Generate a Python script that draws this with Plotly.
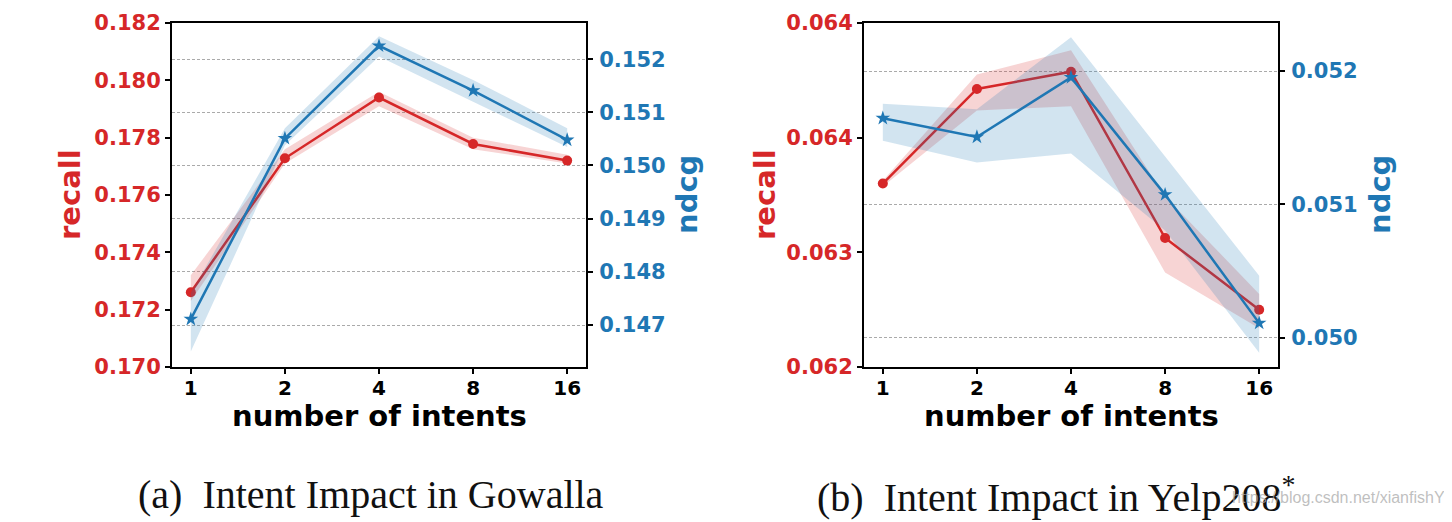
import plotly.graph_objects as go

# ---------------- data ----------------
intents = ["1", "2", "4", "8", "16"]

# (a) Gowalla
gow_recall = [0.17261, 0.17728, 0.17940, 0.17778, 0.17720]
gow_recall_hi = [0.17320, 0.17760, 0.17960, 0.17800, 0.17740]
gow_recall_lo = [0.17230, 0.17710, 0.17910, 0.17760, 0.17710]
gow_ndcg = [0.14711, 0.15051, 0.15225, 0.15141, 0.15048]
gow_ndcg_hi = [0.14760, 0.15070, 0.15243, 0.15161, 0.15070]
gow_ndcg_lo = [0.14650, 0.15038, 0.15205, 0.15120, 0.15035]

# (b) Yelp2018
yelp_recall = [0.06328, 0.06394, 0.06406, 0.06290, 0.06240]
yelp_recall_hi = [0.06330, 0.06404, 0.06421, 0.06319, 0.06251]
yelp_recall_lo = [0.06326, 0.06379, 0.06382, 0.06266, 0.06227]
yelp_ndcg = [0.051646, 0.051505, 0.051952, 0.051073, 0.050109]
yelp_ndcg_hi = [0.051754, 0.051714, 0.052253, 0.051356, 0.050465]
yelp_ndcg_lo = [0.051477, 0.051314, 0.051382, 0.050804, 0.049887]

gow_recall_ticks = [0.170, 0.172, 0.174, 0.176, 0.178, 0.180, 0.182]
gow_ndcg_ticks = [0.147, 0.148, 0.149, 0.150, 0.151, 0.152]
yelp_recall_ticks = [0.0620, 0.0628, 0.0636, 0.0644]
yelp_recall_ticktext = ["0.062", "0.063", "0.064", "0.064"]
yelp_ndcg_ticks = [0.050, 0.051, 0.052]

captions = ["(a)\u00a0\u00a0Intent Impact in Gowalla", "(b)\u00a0\u00a0Intent Impact in Yelp208<sup>*</sup>"]

# ---------------- style ----------------
RED = "#d62728"
BLUE = "#1f77b4"
RED_FILL = "rgba(214,39,40,0.2)"
BLUE_FILL = "rgba(31,119,180,0.2)"
W, H = 1452, 522
OFF = 8  # page body margin
FONT = "DejaVu Sans"


def px(x):
    return (x - OFF) / W


def py(y):
    return 1 - (y - OFF) / H


fig = go.Figure()


def add_panel(xa, ya_rec, ya_ndcg, rec, rec_hi, rec_lo, nd, nd_hi, nd_lo):
    xr = xa.replace("axis", "")
    yr = ya_rec.replace("axis", "")
    yn = ya_ndcg.replace("axis", "")
    fig.add_trace(go.Scatter(x=intents + intents[::-1], y=rec_hi + rec_lo[::-1],
                             fill="toself", fillcolor=RED_FILL, line=dict(width=0),
                             mode="lines", hoverinfo="skip", showlegend=False,
                             xaxis=xr, yaxis=yr))
    fig.add_trace(go.Scatter(x=intents, y=rec, mode="lines+markers",
                             line=dict(color=RED, width=2.5),
                             marker=dict(symbol="circle", size=10, color=RED),
                             showlegend=False, xaxis=xr, yaxis=yr))
    fig.add_trace(go.Scatter(x=intents + intents[::-1], y=nd_hi + nd_lo[::-1],
                             fill="toself", fillcolor=BLUE_FILL, line=dict(width=0),
                             mode="lines", hoverinfo="skip", showlegend=False,
                             xaxis=xr, yaxis=yn))
    fig.add_trace(go.Scatter(x=intents, y=nd, mode="lines+markers",
                             line=dict(color=BLUE, width=2.5),
                             marker=dict(symbol="star", size=11, color=BLUE),
                             showlegend=False, xaxis=xr, yaxis=yn))


add_panel("xaxis", "yaxis", "yaxis2", gow_recall, gow_recall_hi, gow_recall_lo,
          gow_ndcg, gow_ndcg_hi, gow_ndcg_lo)
add_panel("xaxis2", "yaxis3", "yaxis4", yelp_recall, yelp_recall_hi, yelp_recall_lo,
          yelp_ndcg, yelp_ndcg_hi, yelp_ndcg_lo)

tickfont_black = dict(family=FONT, size=20, color="black", weight="bold")


def xaxis_cfg(x0, x1, anchor):
    return dict(domain=[px(x0), px(x1)], anchor=anchor, type="category",
                range=[-0.2, 4.2], showline=True, linecolor="black", linewidth=2,
                mirror=True, ticks="outside", ticklen=5, tickwidth=1.5,
                tickcolor="black", tickfont=tickfont_black, showgrid=False,
                zeroline=False, fixedrange=True, automargin=False,
                ticklabelstandoff=-3)


def yrec_cfg(anchor, rng, vals, text):
    return dict(domain=[py(367), py(23)], anchor=anchor, range=rng, tickmode="array",
                tickvals=vals, ticktext=text, showline=True, linecolor="black",
                linewidth=2, ticks="outside", ticklen=5, tickwidth=1.5,
                tickcolor="black", showgrid=False, zeroline=False,
                automargin=False,
                tickfont=dict(family=FONT, size=21, color=RED, weight="bold"))


def yndcg_cfg(anchor, over, rng, vals):
    return dict(anchor=anchor, overlaying=over, side="right", range=rng,
                tickmode="array", tickvals=vals,
                ticktext=["%.3f" % v for v in vals], showline=True,
                linecolor="black", linewidth=2, ticks="outside", ticklen=5,
                tickwidth=1.5, tickcolor="black", showgrid=True,
                gridcolor="#aaaaaa", gridwidth=1, griddash="3px,2px",
                zeroline=False, automargin=False, ticklabelstandoff=2,
                tickfont=dict(family=FONT, size=21, color=BLUE, weight="bold"))


fig.update_layout(
    template="none",
    width=W, height=H, margin=dict(l=0, r=0, t=0, b=0, pad=0),
    paper_bgcolor="white", plot_bgcolor="white",
    xaxis=xaxis_cfg(172, 586, "y"),
    xaxis2=xaxis_cfg(864, 1278, "y3"),
    yaxis=yrec_cfg("x", [0.170, 0.182], gow_recall_ticks,
                   ["%.3f" % v for v in gow_recall_ticks]),
    yaxis2=yndcg_cfg("x", "y", [0.14621, 0.15268], gow_ndcg_ticks),
    yaxis3=yrec_cfg("x2", [0.0620, 0.0644], yelp_recall_ticks, yelp_recall_ticktext),
    yaxis4=yndcg_cfg("x2", "y3", [0.04978, 0.05236], yelp_ndcg_ticks),
)

ann = []
title_font = lambda c: dict(family=FONT, size=29, color=c, weight="bold")
for cx, label, color in [(70, "recall", RED), (687, "ndcg", BLUE),
                         (765, "recall", RED), (1380, "ndcg", BLUE)]:
    ann.append(dict(x=px(cx), y=py(195), xref="paper", yref="paper",
                    text=label, textangle=-90, showarrow=False,
                    xanchor="center", yanchor="middle", font=title_font(color)))
for cx in [379, 1071]:
    ann.append(dict(x=px(cx), y=py(416), xref="paper", yref="paper",
                    text="number of intents", showarrow=False,
                    xanchor="center", yanchor="middle", font=title_font("black")))
for cx, cap in zip([371, 1056], captions):
    ann.append(dict(x=px(cx), y=py(494), xref="paper", yref="paper",
                    text=cap, showarrow=False, xanchor="center", yanchor="middle",
                    font=dict(family="Liberation Serif", size=40, color="#111111")))
ann.append(dict(x=px(1447), y=py(497), xref="paper", yref="paper",
                text="https://blog.csdn.net/xianfishY", showarrow=False,
                xanchor="right", yanchor="middle",
                font=dict(family="Liberation Sans", size=16,
                          color="rgba(170,170,170,0.75)")))
fig.update_layout(annotations=ann)

fig.write_html("out.html")
